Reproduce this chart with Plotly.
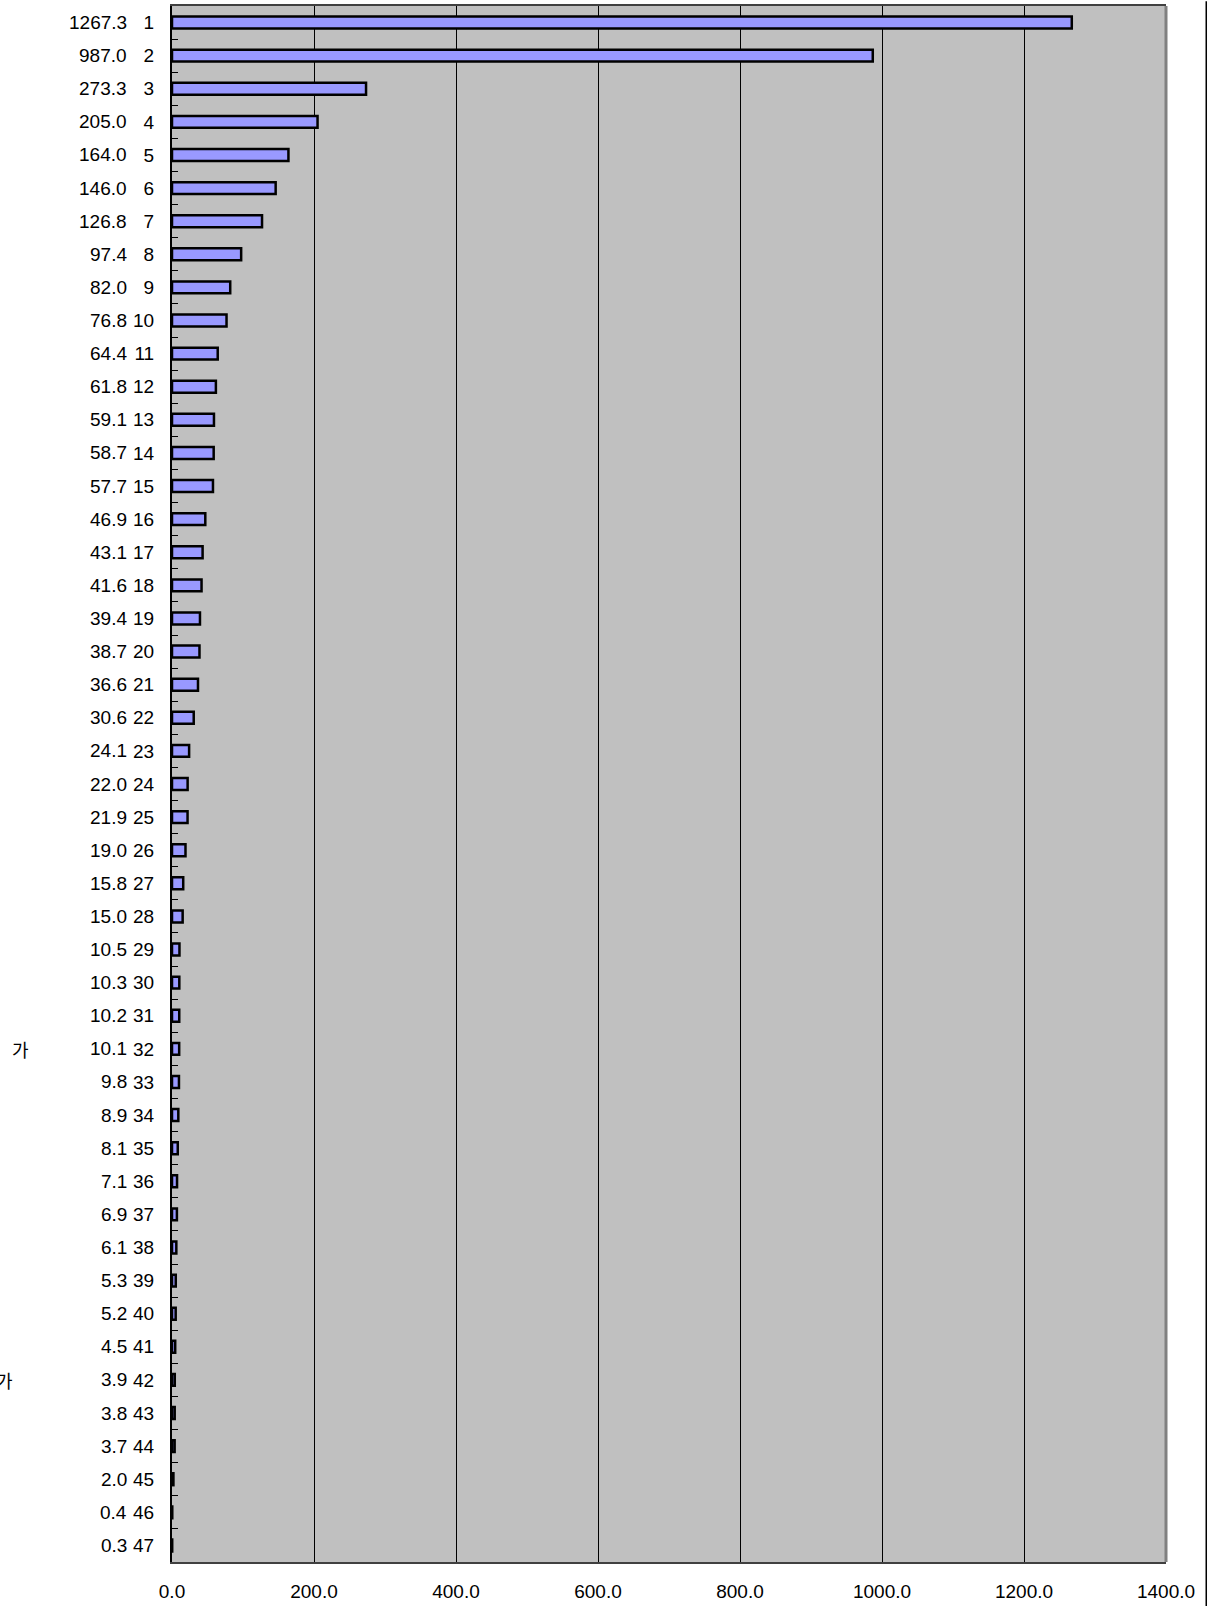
import plotly.graph_objects as go

ranks = [str(i) for i in range(1, 48)]
values = [1267.3, 987.0, 273.3, 205.0, 164.0, 146.0, 126.8, 97.4, 82.0, 76.8,
          64.4, 61.8, 59.1, 58.7, 57.7, 46.9, 43.1, 41.6, 39.4, 38.7,
          36.6, 30.6, 24.1, 22.0, 21.9, 19.0, 15.8, 15.0, 10.5, 10.3,
          10.2, 10.1, 9.8, 8.9, 8.1, 7.1, 6.9, 6.1, 5.3, 5.2,
          4.5, 3.9, 3.8, 3.7, 2.0, 0.4, 0.3]
x_ticks = [0, 200, 400, 600, 800, 1000, 1200, 1400]
x_ticklabels = ["0.0", "200.0", "400.0", "600.0", "800.0", "1000.0", "1200.0", "1400.0"]
# visible (clipped) name fragments at left edge
name_fragments = {"32": "가", "42": "가"}

FONT = "Arial, Liberation Sans, sans-serif"
FS = 19

fig = go.Figure()
fig.add_trace(go.Bar(
    x=values, y=ranks, orientation="h",
    width=0.36,
    marker=dict(color="#9999FF", line=dict(color="#000000", width=2.5)),
    hoverinfo="x+y",
))

annotations = []
for i, v in enumerate(values):
    annotations.append(dict(
        x=-0.0435, xref="paper", y=i, yref="y",
        text=f"{v:.1f}", showarrow=False, xanchor="right", yanchor="middle",
        font=dict(family=FONT, size=FS, color="#000000"),
    ))
frag_x = {"32": -0.1415, "42": -0.1575}
for r, t in name_fragments.items():
    annotations.append(dict(
        x=frag_x[r], xref="paper", y=ranks.index(r), yref="y",
        text=t, showarrow=False, xanchor="right", yanchor="middle",
        font=dict(family="Noto Sans CJK KR", size=18, color="#000000"),
    ))

fig.update_layout(
    width=1219, height=1606,
    margin=dict(l=172, r=53, t=4, b=43),
    plot_bgcolor="#C0C0C0", paper_bgcolor="#FFFFFF",
    showlegend=False,
    bargap=0.6,
    annotations=annotations,
    font=dict(family=FONT, size=FS, color="#000000"),
    shapes=[
        dict(type="line", xref="x domain", yref="y domain", x0=1, x1=1, y0=0, y1=1,
             line=dict(color="#808080", width=3)),
        dict(type="line", xref="paper", yref="paper", x0=1.0405, x1=1.0405, y0=-0.03, y1=1.003,
             line=dict(color="#000000", width=1.5)),
    ],
)
fig.update_xaxes(
    range=[0, 1400], tickvals=x_ticks, ticktext=x_ticklabels,
    showgrid=True, gridcolor="#000000", gridwidth=1,
    zeroline=False, showline=True, linecolor="#404040", linewidth=2, mirror=True,
    ticks="", ticklabelstandoff=11,
    tickfont=dict(family=FONT, size=FS, color="#000000"),
)
fig.update_yaxes(
    autorange="reversed", type="category",
    showgrid=False, zeroline=False,
    showline=True, linecolor="#000000", linewidth=2,
    ticks="inside", tickson="boundaries", ticklen=6, tickcolor="#000000", tickwidth=1,
    ticklabelstandoff=12,
    tickfont=dict(family=FONT, size=FS, color="#000000"),
)

fig.write_html("out.html", config={"displayModeBar": False},
               post_script="document.body.style.margin='0px';document.body.style.overflow='hidden';")
